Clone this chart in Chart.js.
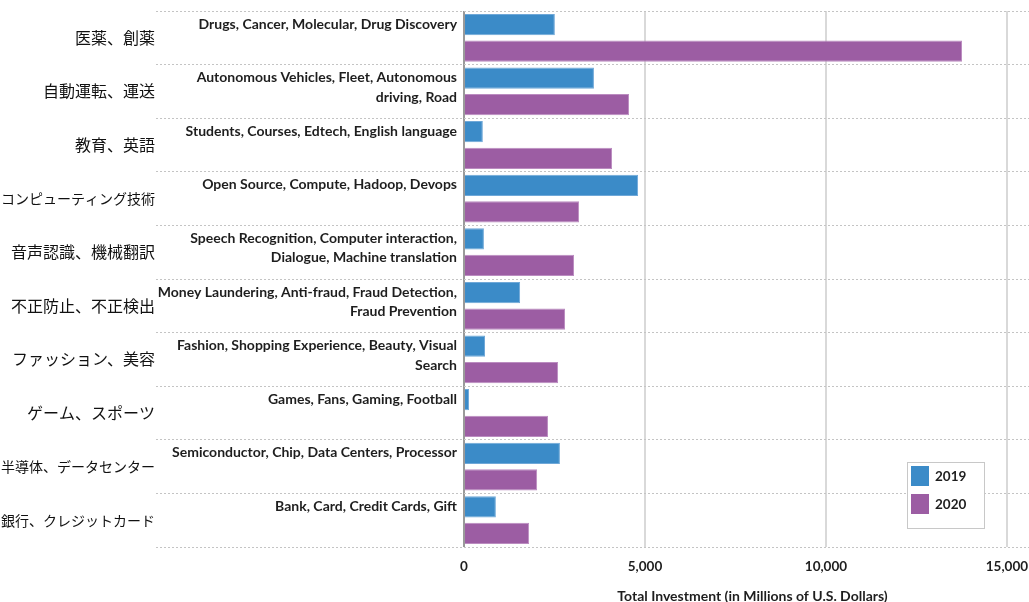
<!DOCTYPE html>
<html><head><meta charset="utf-8">
<script src="https://cdn.jsdelivr.net/npm/chart.js@4.4.1/dist/chart.umd.min.js"></script>
<style>html,body{margin:0;padding:0;background:#fff;}#wrap{width:1029px;height:602px;position:relative;}</style>
</head><body><div id="wrap"><canvas id="c"></canvas></div>
<script>
const categories = ['医薬、創薬','自動運転、運送','教育、英語','コンピューティング技術','音声認識、機械翻訳','不正防止、不正検出','ファッション、美容','ゲーム、スポーツ','半導体、データセンター','銀行、クレジットカード'];
const keywords = [
  ['Drugs, Cancer, Molecular, Drug Discovery'],
  ['Autonomous Vehicles, Fleet, Autonomous','driving, Road'],
  ['Students, Courses, Edtech, English language'],
  ['Open Source, Compute, Hadoop, Devops'],
  ['Speech Recognition, Computer interaction,','Dialogue, Machine translation'],
  ['Money Laundering, Anti-fraud, Fraud Detection,','Fraud Prevention'],
  ['Fashion, Shopping Experience, Beauty, Visual','Search'],
  ['Games, Fans, Gaming, Football'],
  ['Semiconductor, Chip, Data Centers, Processor'],
  ['Bank, Card, Credit Cards, Gift']
];
const values2019 = [2510,3590,520,4810,550,1550,580,140,2650,880];
const values2020 = [13760,4560,4090,3180,3040,2790,2600,2320,2020,1800];
const seriesLabels = ['2019','2020'];
const xTicks = [0,5000,10000,15000];
const xTitle = 'Total Investment (in Millions of U.S. Dollars)';

const colors = ['#3b8bc8','#9c5da3'];
const borders = ['#6fa8d8','#bb8cc0'];
const latinFont = 'Lato, "DejaVu Sans", sans-serif';

const overlay = {
  id:'overlay',
  afterDraw(chart){
    const ctx = chart.ctx, xs = chart.scales.x, ys = chart.scales.y, ca = chart.chartArea;
    const x0 = xs.getPixelForValue(0);
    const band = ys.getPixelForValue(1) - ys.getPixelForValue(0);
    ctx.save();
    ctx.fillStyle = '#1e1e1e';
    ctx.font = 'bold 14px ' + latinFont;
    ctx.textAlign = 'right'; ctx.textBaseline = 'middle';
    keywords.forEach((lines,i)=>{
      const top = ys.getPixelForValue(i) - band/2;
      lines.forEach((t,j)=> ctx.fillText(t, x0 - 7, top + 13 + j*19.5));
    });
    // axis title
    ctx.textAlign = 'center';
    ctx.font = 'bold 14px ' + latinFont;
    ctx.fillText(xTitle, (x0 + ca.right)/2 + 6, 596);
    // legend
    const bx = ca.right - 122, by = ca.bottom - 85;
    ctx.fillStyle = '#fff'; ctx.fillRect(bx, by, 77, 66);
    ctx.strokeStyle = '#c8c8c8'; ctx.lineWidth = 1;
    ctx.strokeRect(bx + 0.5, by + 0.5, 77, 66);
    ctx.textAlign = 'left';
    ctx.font = 'bold 13.5px ' + latinFont;
    seriesLabels.forEach((s,k)=>{
      ctx.fillStyle = colors[k];
      ctx.fillRect(bx + 4, by + 4 + k*28, 18, 20);
      ctx.fillStyle = '#1e1e1e';
      ctx.fillText(s, bx + 28, by + 15 + k*27.5);
    });
    ctx.restore();
  }
};

new Chart(document.getElementById('c'), {
  type:'bar',
  data:{
    labels: categories,
    datasets:[
      {label:seriesLabels[0], data:values2019, backgroundColor:colors[0], borderColor:borders[0], borderWidth:1, categoryPercentage:0.99, barPercentage:0.8},
      {label:seriesLabels[1], data:values2020, backgroundColor:colors[1], borderColor:borders[1], borderWidth:1, categoryPercentage:0.99, barPercentage:0.8}
    ]
  },
  options:{
    indexAxis:'y',
    responsive:true, maintainAspectRatio:false, animation:false,
    layout:{padding:{top:11,left:0,right:0,bottom:0}},
    plugins:{legend:{display:false}, tooltip:{enabled:false}},
    scales:{
      x:{
        type:'linear', min:-8510, max:15610,
        afterBuildTicks: s => { s.ticks = xTicks.map(v=>({value:v})); },
        grid:{color: c => (c.tick && c.tick.value===0) ? '#9a9a9a' : '#d9d9d9', lineWidth:2,
              drawTicks:true, tickLength:12, tickColor:'rgba(0,0,0,0)'},
        border:{display:false},
        ticks:{font:{family:latinFont, weight:'bold', size:13.5}, color:'#1e1e1e', padding:0,
          callback: v => Number(v).toLocaleString('en-US')},
        afterFit: s => { s.height = 55; }
      },
      y:{
        type:'category',
        grid:{color:'#c4c4c4', lineWidth:1, drawTicks:false, offset:true},
        border:{display:false, dash:[2,2]},
        ticks:{
          font: c => ({family:'"Noto Sans CJK JP", sans-serif', size: (categories[c.index] && categories[c.index].length > 9) ? 14 : 16}),
          color:'#111', padding:1
        },
        afterFit: s => { s.width = 156; }
      }
    }
  },
  plugins:[overlay]
});
</script></body></html>
